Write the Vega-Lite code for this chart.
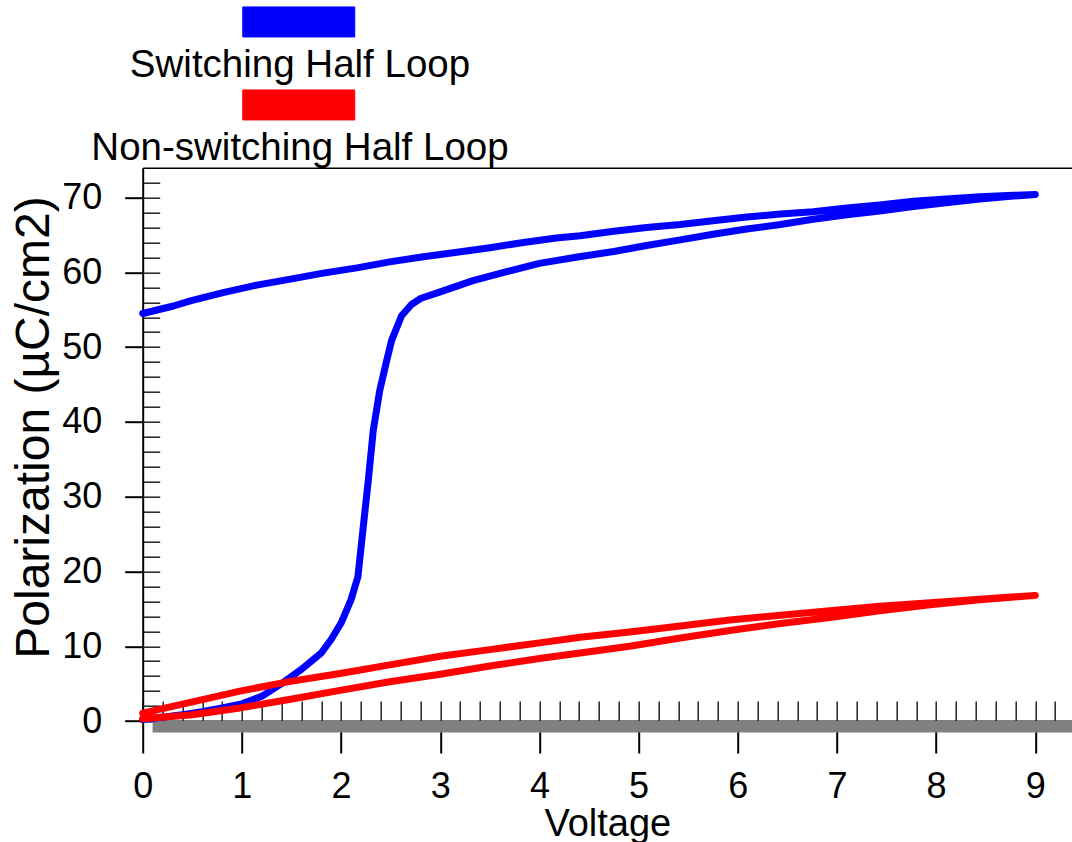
{
  "$schema": "https://vega.github.io/schema/vega-lite/v6.json",
  "width": 929.3,
  "height": 553.3,
  "autosize": "none",
  "padding": {"left": 142.7, "top": 167.7, "right": 0, "bottom": 121},
  "background": "white",
  "config": {"view": {"stroke": null}, "font": "Liberation Sans", "axis": {"grid": false}},
  "datasets": {
    "base": [{"x0": 0.1, "x1": 9.37, "y0": 0, "y1": -1.55}],
    "loops": [
      {"s": "Switching Half Loop", "i": 0, "v": 0.0, "p": 0.2},
      {"s": "Switching Half Loop", "i": 1, "v": 0.2, "p": 0.5},
      {"s": "Switching Half Loop", "i": 2, "v": 0.4, "p": 0.85},
      {"s": "Switching Half Loop", "i": 3, "v": 0.6, "p": 1.25},
      {"s": "Switching Half Loop", "i": 4, "v": 0.8, "p": 1.75},
      {"s": "Switching Half Loop", "i": 5, "v": 1.0, "p": 2.3},
      {"s": "Switching Half Loop", "i": 6, "v": 1.2, "p": 3.3},
      {"s": "Switching Half Loop", "i": 7, "v": 1.4, "p": 5.0},
      {"s": "Switching Half Loop", "i": 8, "v": 1.6, "p": 6.9},
      {"s": "Switching Half Loop", "i": 9, "v": 1.8, "p": 9.1},
      {"s": "Switching Half Loop", "i": 10, "v": 1.9, "p": 10.9},
      {"s": "Switching Half Loop", "i": 11, "v": 2.0, "p": 13.1},
      {"s": "Switching Half Loop", "i": 12, "v": 2.1, "p": 16.2},
      {"s": "Switching Half Loop", "i": 13, "v": 2.17, "p": 19.3},
      {"s": "Switching Half Loop", "i": 14, "v": 2.22, "p": 25.5},
      {"s": "Switching Half Loop", "i": 15, "v": 2.275, "p": 32.2},
      {"s": "Switching Half Loop", "i": 16, "v": 2.325, "p": 38.9},
      {"s": "Switching Half Loop", "i": 17, "v": 2.39, "p": 44.2},
      {"s": "Switching Half Loop", "i": 18, "v": 2.46, "p": 48.2},
      {"s": "Switching Half Loop", "i": 19, "v": 2.51, "p": 50.9},
      {"s": "Switching Half Loop", "i": 20, "v": 2.61, "p": 54.2},
      {"s": "Switching Half Loop", "i": 21, "v": 2.71, "p": 55.7},
      {"s": "Switching Half Loop", "i": 22, "v": 2.8, "p": 56.5},
      {"s": "Switching Half Loop", "i": 23, "v": 3.0, "p": 57.4},
      {"s": "Switching Half Loop", "i": 24, "v": 3.33, "p": 58.9},
      {"s": "Switching Half Loop", "i": 25, "v": 3.67, "p": 60.1},
      {"s": "Switching Half Loop", "i": 26, "v": 4.0, "p": 61.2},
      {"s": "Switching Half Loop", "i": 27, "v": 4.4, "p": 62.1},
      {"s": "Switching Half Loop", "i": 28, "v": 4.75, "p": 62.8},
      {"s": "Switching Half Loop", "i": 29, "v": 5.08, "p": 63.6},
      {"s": "Switching Half Loop", "i": 30, "v": 5.42, "p": 64.35},
      {"s": "Switching Half Loop", "i": 31, "v": 5.75, "p": 65.1},
      {"s": "Switching Half Loop", "i": 32, "v": 6.09, "p": 65.8},
      {"s": "Switching Half Loop", "i": 33, "v": 6.43, "p": 66.4},
      {"s": "Switching Half Loop", "i": 34, "v": 6.76, "p": 67.1},
      {"s": "Switching Half Loop", "i": 35, "v": 7.1, "p": 67.7},
      {"s": "Switching Half Loop", "i": 36, "v": 7.43, "p": 68.2},
      {"s": "Switching Half Loop", "i": 37, "v": 7.77, "p": 68.8},
      {"s": "Switching Half Loop", "i": 38, "v": 8.1, "p": 69.3},
      {"s": "Switching Half Loop", "i": 39, "v": 8.44, "p": 69.8},
      {"s": "Switching Half Loop", "i": 40, "v": 8.78, "p": 70.2},
      {"s": "Switching Half Loop", "i": 41, "v": 9.0, "p": 70.4},
      {"s": "Switching Half Loop", "i": 42, "v": 8.78, "p": 70.3},
      {"s": "Switching Half Loop", "i": 43, "v": 8.44, "p": 70.1},
      {"s": "Switching Half Loop", "i": 44, "v": 8.1, "p": 69.8},
      {"s": "Switching Half Loop", "i": 45, "v": 7.77, "p": 69.5},
      {"s": "Switching Half Loop", "i": 46, "v": 7.43, "p": 69.0},
      {"s": "Switching Half Loop", "i": 47, "v": 7.1, "p": 68.6},
      {"s": "Switching Half Loop", "i": 48, "v": 6.76, "p": 68.1},
      {"s": "Switching Half Loop", "i": 49, "v": 6.43, "p": 67.8},
      {"s": "Switching Half Loop", "i": 50, "v": 6.09, "p": 67.4},
      {"s": "Switching Half Loop", "i": 51, "v": 5.75, "p": 66.9},
      {"s": "Switching Half Loop", "i": 52, "v": 5.42, "p": 66.4},
      {"s": "Switching Half Loop", "i": 53, "v": 5.08, "p": 66.0},
      {"s": "Switching Half Loop", "i": 54, "v": 4.75, "p": 65.5},
      {"s": "Switching Half Loop", "i": 55, "v": 4.41, "p": 64.9},
      {"s": "Switching Half Loop", "i": 56, "v": 4.17, "p": 64.6},
      {"s": "Switching Half Loop", "i": 57, "v": 3.84, "p": 64.0},
      {"s": "Switching Half Loop", "i": 58, "v": 3.5, "p": 63.3},
      {"s": "Switching Half Loop", "i": 59, "v": 3.17, "p": 62.7},
      {"s": "Switching Half Loop", "i": 60, "v": 2.83, "p": 62.1},
      {"s": "Switching Half Loop", "i": 61, "v": 2.49, "p": 61.4},
      {"s": "Switching Half Loop", "i": 62, "v": 2.16, "p": 60.6},
      {"s": "Switching Half Loop", "i": 63, "v": 1.82, "p": 59.9},
      {"s": "Switching Half Loop", "i": 64, "v": 1.49, "p": 59.1},
      {"s": "Switching Half Loop", "i": 65, "v": 1.15, "p": 58.3},
      {"s": "Switching Half Loop", "i": 66, "v": 0.81, "p": 57.3},
      {"s": "Switching Half Loop", "i": 67, "v": 0.48, "p": 56.2},
      {"s": "Switching Half Loop", "i": 68, "v": 0.31, "p": 55.5},
      {"s": "Switching Half Loop", "i": 69, "v": 0.0, "p": 54.5},
      {"s": "Non-switching Half Loop", "i": 0, "v": 0.0, "p": 0.3},
      {"s": "Non-switching Half Loop", "i": 1, "v": 0.48, "p": 0.8},
      {"s": "Non-switching Half Loop", "i": 2, "v": 0.98, "p": 1.75},
      {"s": "Non-switching Half Loop", "i": 3, "v": 1.49, "p": 2.9},
      {"s": "Non-switching Half Loop", "i": 4, "v": 1.99, "p": 4.1},
      {"s": "Non-switching Half Loop", "i": 5, "v": 2.49, "p": 5.25},
      {"s": "Non-switching Half Loop", "i": 6, "v": 3.0, "p": 6.25},
      {"s": "Non-switching Half Loop", "i": 7, "v": 3.5, "p": 7.35},
      {"s": "Non-switching Half Loop", "i": 8, "v": 4.0, "p": 8.35},
      {"s": "Non-switching Half Loop", "i": 9, "v": 4.41, "p": 9.1},
      {"s": "Non-switching Half Loop", "i": 10, "v": 4.91, "p": 10.0},
      {"s": "Non-switching Half Loop", "i": 11, "v": 5.42, "p": 11.1},
      {"s": "Non-switching Half Loop", "i": 12, "v": 5.92, "p": 12.1},
      {"s": "Non-switching Half Loop", "i": 13, "v": 6.43, "p": 13.05},
      {"s": "Non-switching Half Loop", "i": 14, "v": 6.93, "p": 13.85},
      {"s": "Non-switching Half Loop", "i": 15, "v": 7.43, "p": 14.75},
      {"s": "Non-switching Half Loop", "i": 16, "v": 7.94, "p": 15.55},
      {"s": "Non-switching Half Loop", "i": 17, "v": 8.44, "p": 16.2},
      {"s": "Non-switching Half Loop", "i": 18, "v": 9.0, "p": 16.8},
      {"s": "Non-switching Half Loop", "i": 19, "v": 8.44, "p": 16.3},
      {"s": "Non-switching Half Loop", "i": 20, "v": 7.94, "p": 15.8},
      {"s": "Non-switching Half Loop", "i": 21, "v": 7.43, "p": 15.35},
      {"s": "Non-switching Half Loop", "i": 22, "v": 6.93, "p": 14.75},
      {"s": "Non-switching Half Loop", "i": 23, "v": 6.43, "p": 14.15},
      {"s": "Non-switching Half Loop", "i": 24, "v": 5.92, "p": 13.5},
      {"s": "Non-switching Half Loop", "i": 25, "v": 5.42, "p": 12.7},
      {"s": "Non-switching Half Loop", "i": 26, "v": 4.91, "p": 11.9},
      {"s": "Non-switching Half Loop", "i": 27, "v": 4.41, "p": 11.2},
      {"s": "Non-switching Half Loop", "i": 28, "v": 4.0, "p": 10.45},
      {"s": "Non-switching Half Loop", "i": 29, "v": 3.5, "p": 9.55},
      {"s": "Non-switching Half Loop", "i": 30, "v": 3.0, "p": 8.65},
      {"s": "Non-switching Half Loop", "i": 31, "v": 2.49, "p": 7.5},
      {"s": "Non-switching Half Loop", "i": 32, "v": 1.99, "p": 6.35},
      {"s": "Non-switching Half Loop", "i": 33, "v": 1.49, "p": 5.3},
      {"s": "Non-switching Half Loop", "i": 34, "v": 0.98, "p": 4.0},
      {"s": "Non-switching Half Loop", "i": 35, "v": 0.48, "p": 2.5},
      {"s": "Non-switching Half Loop", "i": 36, "v": 0.0, "p": 1.05}
    ]
  },
  "resolve": {"axis": {"x": "independent", "y": "independent"}},
  "layer": [
    {
      "data": {"name": "base"},
      "mark": {"type": "rect", "color": "#808080"},
      "encoding": {
        "x": {"field": "x0", "type": "quantitative", "scale": {"domain": [0, 9.37], "nice": false, "zero": false},
          "axis": {"orient": "top", "domain": true, "domainColor": "#000", "domainWidth": 1.5, "ticks": false, "labels": false, "title": null, "grid": false}},
        "x2": {"field": "x1"},
        "y": {"field": "y0", "type": "quantitative", "scale": {"domain": [0, 74], "nice": false, "zero": false}, "axis": null},
        "y2": {"field": "y1"}
      }
    },
    {
      "data": {"name": "loops"},
      "transform": [{"filter": "datum.s == 'Switching Half Loop'"}],
      "mark": {"type": "line", "strokeWidth": 7, "strokeCap": "round", "strokeJoin": "round"},
      "encoding": {
        "x": {"field": "v", "type": "quantitative", "scale": {"domain": [0, 9.37], "nice": false, "zero": false},
          "axis": {"orient": "bottom", "values": [0, 1, 2, 3, 4, 5, 6, 7, 8, 9], "tickSize": 32, "tickWidth": 2, "tickColor": "#000",
            "domain": true, "domainColor": "#000", "domainWidth": 2, "labelFontSize": 36, "labelFont": "Liberation Sans", "labelColor": "#000",
            "labelPadding": 16, "labelFlush": false, "labelOverlap": false, "grid": false,
            "title": "Voltage", "titleFont": "Liberation Sans", "titleFontSize": 38, "titleFontWeight": "normal", "titleColor": "#000",
            "titleX": 464.65, "titleY": 114, "titleBaseline": "alphabetic", "titleAlign": "center", "titleAnchor": null}},
        "y": {"field": "p", "type": "quantitative", "scale": {"domain": [0, 74], "nice": false, "zero": false},
          "axis": {"orient": "left", "values": [0, 10, 20, 30, 40, 50, 60, 70], "tickSize": 18, "tickWidth": 2, "tickColor": "#000",
            "domain": true, "domainColor": "#000", "domainWidth": 2, "labelFontSize": 36, "labelFont": "Liberation Sans", "labelColor": "#000",
            "labelPadding": 23, "labelFlush": false, "labelOverlap": false, "grid": false,
            "title": "Polarization (µC/cm2)", "titleFont": "Liberation Sans", "titleFontSize": 48, "titleFontWeight": "normal", "titleColor": "#000",
            "titleAngle": -90, "titleX": -94, "titleY": 259.3, "titleBaseline": "alphabetic", "titleAlign": "center", "titleAnchor": null}},
        "color": {"field": "s", "type": "nominal",
          "scale": {"domain": ["Switching Half Loop", "Non-switching Half Loop"], "range": ["#0000ff", "#ff0000"]},
          "legend": {"orient": "none", "legendX": -18.2, "legendY": -122, "direction": "vertical", "title": null,
            "symbolType": "M 99,-58 h 112 v 30 h -112 Z", "symbolSize": 4, "symbolStrokeWidth": 1, "symbolStrokeColor": "#000",
            "labelFontSize": 38.5, "labelFont": "Liberation Sans", "labelColor": "#000", "labelAlign": "center", "labelOffset": 137,
            "labelLimit": 800, "rowPadding": 3, "padding": 0, "offset": 0,
            "encode": {"symbols": {"update": {"fill": {"scale": "color", "field": "value"}, "stroke": {"value": "#000"}, "strokeWidth": {"value": 1}, "opacity": {"value": 1}}}}}},
        "order": {"field": "i", "type": "quantitative"}
      }
    },
    {
      "data": {"name": "loops"},
      "transform": [{"filter": "datum.s == 'Non-switching Half Loop'"}],
      "mark": {"type": "line", "strokeWidth": 7, "strokeCap": "round", "strokeJoin": "round"},
      "encoding": {
        "x": {"field": "v", "type": "quantitative", "scale": {"domain": [0, 9.37], "nice": false, "zero": false},
          "axis": {"orient": "bottom", "values": [0, 0.2, 0.4, 0.6, 0.8, 1, 1.2, 1.4, 1.6, 1.8, 2, 2.2, 2.4, 2.6, 2.8, 3, 3.2, 3.4, 3.6, 3.8, 4, 4.2, 4.4, 4.6, 4.8, 5, 5.2, 5.4, 5.6, 5.8, 6, 6.2, 6.4, 6.6, 6.8, 7, 7.2, 7.4, 7.6, 7.8, 8, 8.2, 8.4, 8.6, 8.8, 9, 9.2],
            "tickSize": -20, "tickWidth": 1.5, "tickColor": "#222", "domain": false, "labels": false, "title": null, "grid": false}},
        "y": {"field": "p", "type": "quantitative", "scale": {"domain": [0, 74], "nice": false, "zero": false},
          "axis": {"orient": "left", "values": [0, 2, 4, 6, 8, 10, 12, 14, 16, 18, 20, 22, 24, 26, 28, 30, 32, 34, 36, 38, 40, 42, 44, 46, 48, 50, 52, 54, 56, 58, 60, 62, 64, 66, 68, 70, 72],
            "tickSize": -17, "tickWidth": 1.5, "tickColor": "#222", "domain": false, "labels": false, "title": null, "grid": false}},
        "color": {"field": "s", "type": "nominal",
          "scale": {"domain": ["Switching Half Loop", "Non-switching Half Loop"], "range": ["#0000ff", "#ff0000"]},
          "legend": {"orient": "none", "legendX": -18.2, "legendY": -122, "direction": "vertical", "title": null,
            "symbolType": "M 99,-58 h 112 v 30 h -112 Z", "symbolSize": 4, "symbolStrokeWidth": 1, "symbolStrokeColor": "#000",
            "labelFontSize": 38.5, "labelFont": "Liberation Sans", "labelColor": "#000", "labelAlign": "center", "labelOffset": 137,
            "labelLimit": 800, "rowPadding": 3, "padding": 0, "offset": 0,
            "encode": {"symbols": {"update": {"fill": {"scale": "color", "field": "value"}, "stroke": {"value": "#000"}, "strokeWidth": {"value": 1}, "opacity": {"value": 1}}}}}},
        "order": {"field": "i", "type": "quantitative"}
      }
    }
  ]
}
